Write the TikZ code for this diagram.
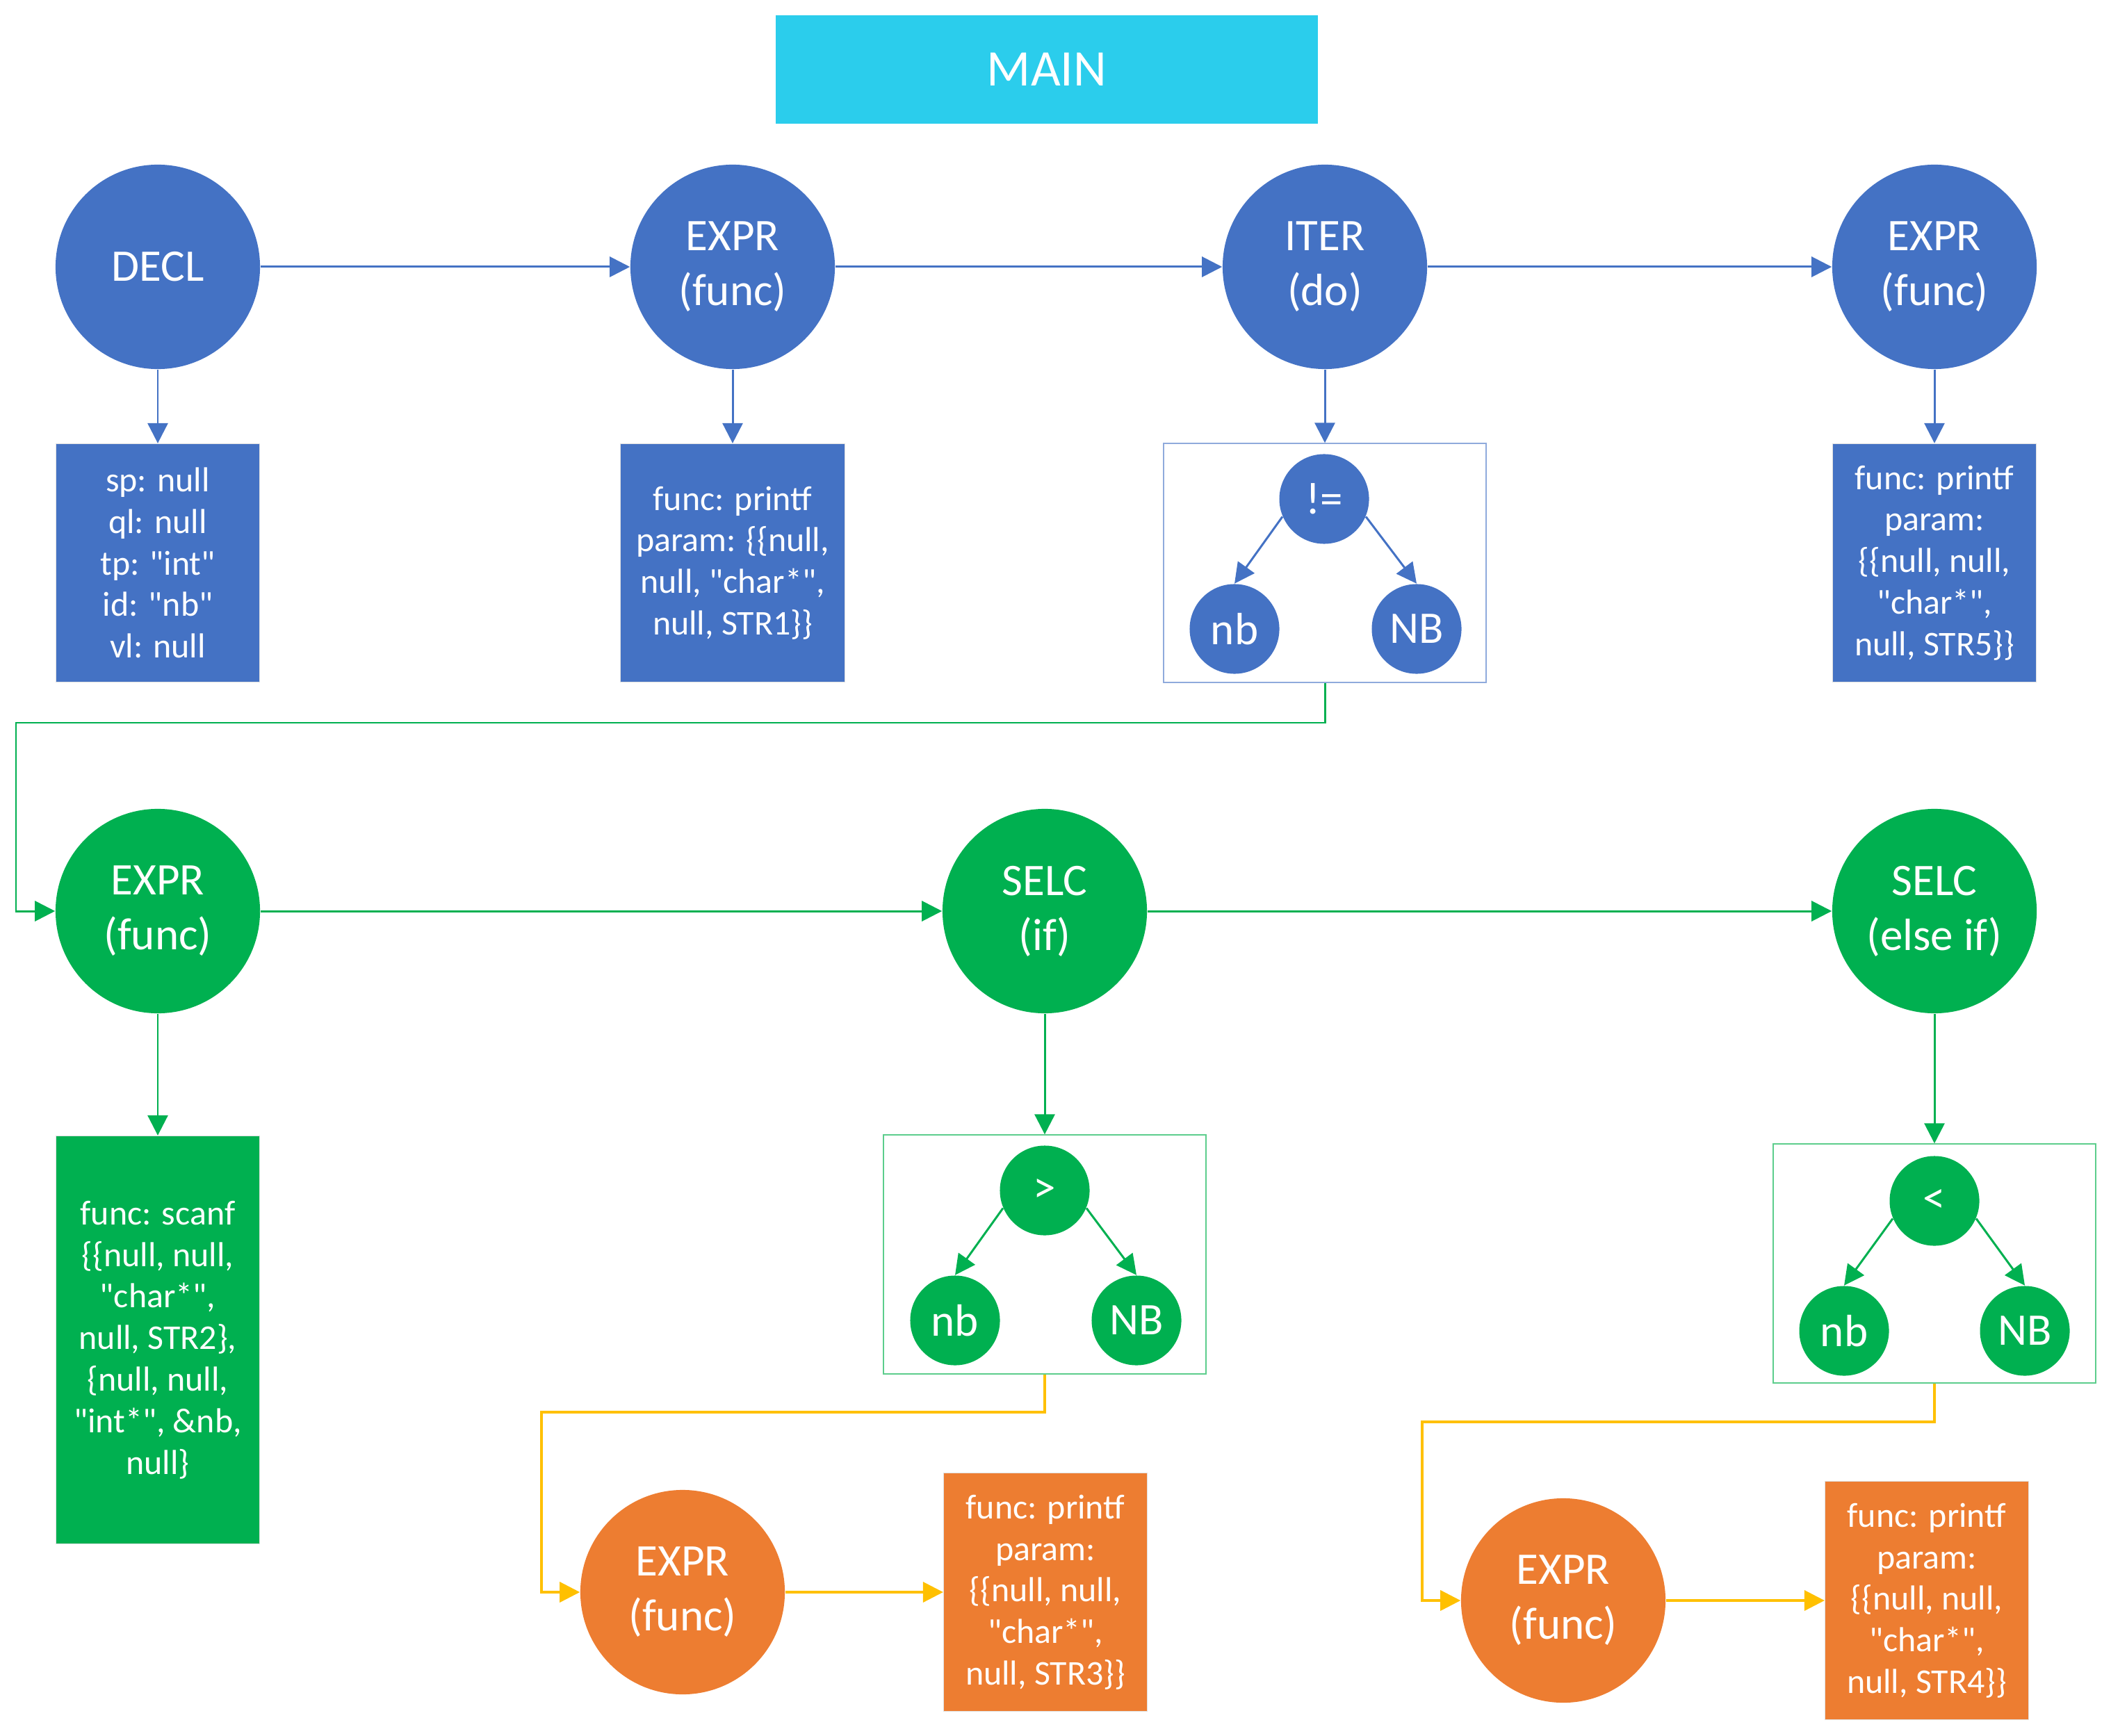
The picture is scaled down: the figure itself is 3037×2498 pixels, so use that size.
\documentclass[tikz,border=0pt]{standalone}
\usepackage{fontspec}
\setmainfont{Carlito}
\usetikzlibrary{arrows.meta}

\definecolor{nodeblue}{HTML}{4472C4}
\definecolor{nodegreen}{HTML}{00B050}
\definecolor{nodeorange}{HTML}{ED7D31}
\definecolor{linkyellow}{HTML}{FFC000}
\definecolor{maincyan}{HTML}{2BCDEC}
\definecolor{treeblue}{HTML}{8FAADC}
\definecolor{treegreen}{HTML}{5CCD8C}

% straight double quote
\newcommand{\qq}{\textquotedbl}

\tikzset{
  bignode/.style={circle, minimum size=2.94cm, inner sep=0pt, text=white,
    align=center, font=\fontsize{18.5}{22.5}\selectfont},
  smallnode/.style={circle, minimum size=1.29cm, inner sep=0pt, text=white,
    font=\fontsize{18.5}{22.5}\selectfont},
  infobox/.style={rectangle, inner sep=0pt, text=white, align=center,
    draw=black!12, line width=0.3pt,
    font=\fontsize{14.2}{17}\selectfont,
    minimum height=3.43cm, minimum width=2.93cm},
  treebox/.style={rectangle, inner sep=0pt, minimum width=4.64cm,
    minimum height=3.43cm, line width=0.6pt},
  link/.style={line width=0.85pt, -{Triangle[length=0.29cm,width=0.29cm]}},
  blink/.style={link, draw=nodeblue},
  glink/.style={link, draw=nodegreen},
  ylink/.style={link, draw=linkyellow, line width=1pt},
}

\begin{document}
\begin{tikzpicture}[x=0.01cm, y=-0.01cm]
\useasboundingbox (0,0) rectangle (3037,2498);

% title
\node[fill=maincyan, minimum width=7.8cm, minimum height=1.55cm, inner sep=0pt,
  text=white, font=\fontsize{21}{25}\selectfont] (main) at (1506,100) {MAIN};

% first row: declaration, call, loop, call
\node[bignode, fill=nodeblue] (decl)  at (227,384)  {DECL};
\node[bignode, fill=nodeblue] (expra) at (1054,384) {EXPR\\(func)};
\node[bignode, fill=nodeblue] (iter)  at (1906,384) {ITER\\(do)};
\node[bignode, fill=nodeblue] (exprb) at (2783,384) {EXPR\\(func)};

\node[infobox, fill=nodeblue] (declbox) at (227,810)
  {sp: null\\ql: null\\tp: \qq int\qq\\id: \qq nb\qq\\vl: null};
\node[infobox, fill=nodeblue, minimum width=3.22cm] (exprabox) at (1054,810)
  {func: printf\\param: \{\{null,\\null, \qq char*\qq,\\null, STR1\}\}};
\node[treebox, draw=treeblue] (iterbox) at (1906,810) {};
\node[smallnode, fill=nodeblue] (ne)  at (1905,718) {!=};
\node[smallnode, fill=nodeblue] (nea) at (1776,905) {nb};
\node[smallnode, fill=nodeblue] (neb) at (2038,905) {NB};
\node[infobox, fill=nodeblue] (exprbbox) at (2783,810)
  {func: printf\\param:\\\{\{null, null,\\\qq char*\qq,\\null, STR5\}\}};

% second row: loop body
\node[bignode, fill=nodegreen] (exprc) at (227,1311)  {EXPR\\(func)};
\node[bignode, fill=nodegreen] (selca) at (1503,1311) {SELC\\(if)};
\node[bignode, fill=nodegreen] (selcb) at (2783,1311) {SELC\\(else if)};

\node[infobox, fill=nodegreen, minimum height=5.87cm] (scanfbox) at (227,1928)
  {func: scanf\\\{\{null, null,\\\qq char*\qq,\\null, STR2\},\\\{null, null,\\\qq int*\qq, \&nb,\\null\}};

\node[treebox, draw=treegreen] (selcabox) at (1503,1805) {};
\node[smallnode, fill=nodegreen] (gt)  at (1503,1713) {>};
\node[smallnode, fill=nodegreen] (gta) at (1374,1900) {nb};
\node[smallnode, fill=nodegreen] (gtb) at (1635,1900) {NB};

\node[treebox, draw=treegreen] (selcbbox) at (2783,1818) {};
\node[smallnode, fill=nodegreen] (lt)  at (2783,1728) {<};
\node[smallnode, fill=nodegreen] (lta) at (2653,1915) {nb};
\node[smallnode, fill=nodegreen] (ltb) at (2913,1915) {NB};

% branch bodies
\node[bignode, fill=nodeorange] (expro) at (982,2291) {EXPR\\(func)};
\node[infobox, fill=nodeorange] (exprobox) at (1504,2291)
  {func: printf\\param:\\\{\{null, null,\\\qq char*\qq,\\null, STR3\}\}};
\node[bignode, fill=nodeorange] (exprp) at (2249,2303) {EXPR\\(func)};
\node[infobox, fill=nodeorange] (exprpbox) at (2772,2303)
  {func: printf\\param:\\\{\{null, null,\\\qq char*\qq,\\null, STR4\}\}};

% blue connectors
\draw[blink] (decl) -- (expra);
\draw[blink] (expra) -- (iter);
\draw[blink] (iter) -- (exprb);
\draw[blink] (decl) -- (declbox);
\draw[blink] (expra) -- (exprabox);
\draw[blink] (iter) -- (iterbox);
\draw[blink] (exprb) -- (exprbbox);
\draw[blink] (ne.203) -- (nea.north);
\draw[blink] (ne.-23) -- (neb.north);

% green connectors
\coordinate (gbend) at (23,1040);
\draw[glink] (iterbox.south) |- (gbend) |- (exprc.west);
\draw[glink] (exprc) -- (selca);
\draw[glink] (selca) -- (selcb);
\draw[glink] (exprc) -- (scanfbox);
\draw[glink] (selca) -- (selcabox);
\draw[glink] (selcb) -- (selcbbox);
\draw[glink] (gt.203) -- (gta.north);
\draw[glink] (gt.-23) -- (gtb.north);
\draw[glink] (lt.203) -- (lta.north);
\draw[glink] (lt.-23) -- (ltb.north);

% yellow connectors
\coordinate (ybendA) at (779,2032);
\draw[ylink] (selcabox.south) |- (ybendA) |- (expro.west);
\draw[ylink] (expro) -- (exprobox);
\coordinate (ybendB) at (2046,2046);
\draw[ylink] (selcbbox.south) |- (ybendB) |- (exprp.west);
\draw[ylink] (exprp) -- (exprpbox);
\end{tikzpicture}
\end{document}
